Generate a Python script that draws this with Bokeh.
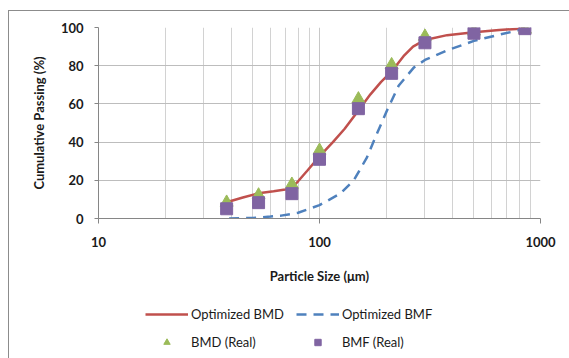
from bokeh.plotting import figure
from bokeh.layouts import column
from bokeh.models import (FixedTicker, Legend, LegendItem, NumeralTickFormatter, Range1d)
from bokeh.embed import file_html
from bokeh.resources import INLINE

# ---- data ----
sizes = [38, 53, 75, 100, 150, 212, 300, 500, 850]
bmd_real = [8.4, 12.2, 17.8, 35.6, 62.5, 80.4, 95.3, 98.0, 99.0]
bmf_real = [5.1, 8.3, 13.0, 31.0, 57.5, 76.0, 92.0, 97.0, 99.4]

opt_bmd_x = [38, 45, 53, 62, 70, 75, 80, 88, 100, 115, 130, 150, 170, 190,
             212, 240, 265, 300, 378, 500, 650, 850]
opt_bmd_y = [8.5, 11.0, 13.2, 14.3, 15.2, 16.2, 19.5, 25.0, 32.5, 40.0, 47.0,
             56.5, 65.0, 71.5, 77.0, 85.0, 90.0, 93.5, 96.0, 97.5, 98.7, 99.5]

opt_bmf_x = [39, 50, 60, 67, 80, 100, 124, 143, 164, 182, 202, 228, 267, 300,
             378, 500, 637, 850]
opt_bmf_y = [0.0, 0.3, 1.0, 1.5, 3.0, 7.0, 13.0, 20.0, 32.0, 44.5, 56.5, 69.5,
             79.0, 83.0, 88.0, 93.0, 96.0, 99.3]

x_major = [10, 100, 1000]
x_minor = [20, 30, 40, 50, 60, 70, 80, 90, 200, 300, 400, 500, 600, 700, 800, 900]
y_ticks = [0, 20, 40, 60, 80, 100]
legend_labels = ["Optimized BMD", "Optimized BMF", "BMD (Real)", "BMF (Real)"]

RED, BLUE, GREEN, PURPLE = "#C0504D", "#4F81BD", "#9BBB59", "#8064A2"
FONT = "Lato"
AXIS_C = "#868686"
BORDER_C = "#8c8c8c"
TEXT_C = "#1a1a1a"

# ---------------- main chart ----------------
p = figure(width=569, height=290, x_axis_type="log",
           x_range=Range1d(10, 1000), y_range=Range1d(0, 100),
           output_backend="svg", toolbar_location=None,
           min_border_left=98, min_border_right=29,
           min_border_top=27, min_border_bottom=72)
p.outline_line_color = None
p.background_fill_color = "white"
p.border_fill_alpha = 0
p.styles = {
    "background": (f"linear-gradient({BORDER_C},{BORDER_C}) 8px 10px / 100% 1px no-repeat, "
                   f"linear-gradient({BORDER_C},{BORDER_C}) 8px 10px / 1px 100% no-repeat, white")
}

p.xaxis.ticker = FixedTicker(ticks=x_major, minor_ticks=x_minor)
p.xaxis.formatter = NumeralTickFormatter(format="0")
p.yaxis.ticker = FixedTicker(ticks=y_ticks)
for ax in (p.xaxis[0], p.yaxis[0]):
    ax.axis_line_color = AXIS_C
    ax.major_tick_line_color = AXIS_C
    ax.minor_tick_in = 0
    ax.minor_tick_out = 0
    ax.major_tick_in = 0
    ax.major_label_text_font = FONT
    ax.major_label_text_font_style = "bold"
    ax.major_label_text_font_size = "13px"
    ax.major_label_text_color = TEXT_C
    ax.axis_label_text_font = FONT
    ax.axis_label_text_font_style = "bold"
    ax.axis_label_text_font_size = "13px"
    ax.axis_label_text_color = TEXT_C
p.xaxis.major_tick_out = 5
p.xaxis.major_label_standoff = 13
p.xaxis.axis_label = "Particle Size (\u03bcm)"
p.xaxis.axis_label_standoff = 18
p.yaxis.major_tick_out = 4
p.yaxis.major_label_standoff = 11
p.yaxis.axis_label = "Cumulative Passing (%)"
p.yaxis.axis_label_standoff = 11

p.xgrid.ticker = FixedTicker(ticks=x_major, minor_ticks=x_minor)
p.xgrid.grid_line_color = "#c8c8c8"
p.xgrid.minor_grid_line_color = "#d2d2d2"
p.ygrid.ticker = FixedTicker(ticks=y_ticks)
p.ygrid.grid_line_color = "#bdbdbd"

line_bmd = dict(line_color=RED, line_width=2.5)
line_bmf = dict(line_color=BLUE, line_width=2.5, line_dash="10 7")
tri = dict(marker="triangle", size=13, fill_color=GREEN, line_color=GREEN)
sq = dict(marker="square", size=12, fill_color=PURPLE, line_color=PURPLE)

p.line(opt_bmd_x, opt_bmd_y, **line_bmd)
p.line(opt_bmf_x, opt_bmf_y, **line_bmf)
p.scatter(sizes, bmd_real, **tri)
p.scatter(sizes, bmf_real, **sq)

# ---------------- legend strip ----------------
q = figure(width=569, height=68, x_range=Range1d(0, 1), y_range=Range1d(0, 1),
           output_backend="svg", toolbar_location=None,
           x_axis_location=None, y_axis_location=None,
           min_border_left=98, min_border_right=29, min_border_top=0, min_border_bottom=0)
q.outline_line_color = None
q.grid.visible = False
q.background_fill_alpha = 0
q.border_fill_alpha = 0
q.styles = {
    "background": (f"linear-gradient({BORDER_C},{BORDER_C}) 8px 0px / 1px 100% no-repeat, white")
}
# legend-only renderers (their points lie outside the strip's visible range)
off = [-5, -4]
g1 = q.line(off, off, **line_bmd)
g2 = q.line(off, off, **line_bmf)
g3 = q.scatter(off, off, **tri)
g4 = q.scatter(off, off, **sq)

legend = Legend(items=[LegendItem(label=lab, renderers=[g])
                       for lab, g in zip(legend_labels, [g1, g2, g3, g4])],
                location=(47, 8), orientation="horizontal", ncols=2,
                glyph_width=43, glyph_height=16, label_height=16,
                spacing=12, padding=0, margin=0, label_standoff=3,
                border_line_color=None, background_fill_alpha=0,
                label_text_font=FONT, label_text_font_size="13px",
                label_text_color=TEXT_C)
q.add_layout(legend, "center")

layout = column(p, q, spacing=0)
open("out.html", "w").write(file_html(layout, INLINE))
